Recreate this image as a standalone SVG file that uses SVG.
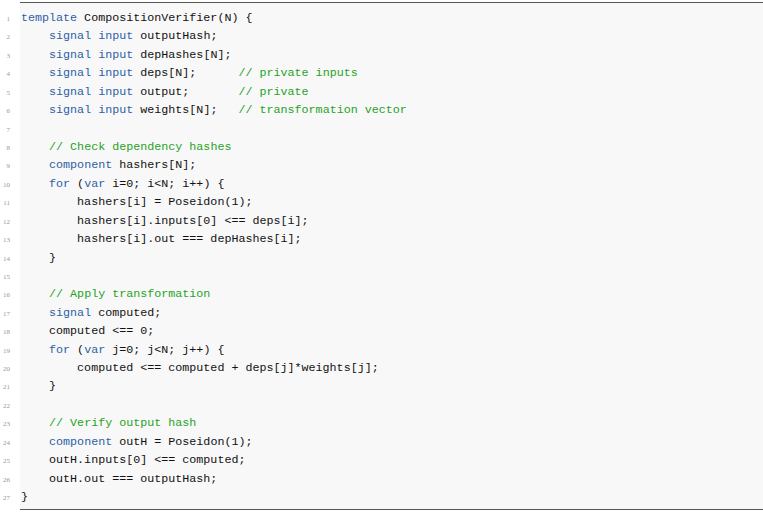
<svg xmlns="http://www.w3.org/2000/svg" width="763" height="516" viewBox="0 0 763 516">
<style>
.c{font-family:"Liberation Mono",monospace;font-size:11.7px;fill:#111;white-space:pre}
.k{fill:#2d5fa6}.g{fill:#1fa31f}
.n{font-family:"Liberation Serif",serif;font-size:7px;fill:#999;text-anchor:end}
</style>
<rect x="0" y="0" width="763" height="516" fill="#fff"/>
<rect x="20" y="3" width="743" height="506" fill="#f8f8f8"/>
<line x1="20" y1="2.5" x2="763" y2="2.5" stroke="#555" stroke-width="1"/>
<line x1="20" y1="509.5" x2="763" y2="509.5" stroke="#555" stroke-width="1"/>
<g id="numbers">
<text class="n" x="10" y="21">1</text><text class="n" x="10" y="39.4">2</text><text class="n" x="10" y="57.8">3</text><text class="n" x="10" y="76.3">4</text><text class="n" x="10" y="94.7">5</text><text class="n" x="10" y="113.1">6</text><text class="n" x="10" y="131.5">7</text><text class="n" x="10" y="149.9">8</text><text class="n" x="10" y="168.4">9</text><text class="n" x="10" y="186.8">10</text><text class="n" x="10" y="205.2">11</text><text class="n" x="10" y="223.6">12</text><text class="n" x="10" y="242">13</text><text class="n" x="10" y="260.5">14</text><text class="n" x="10" y="278.9">15</text><text class="n" x="10" y="297.3">16</text><text class="n" x="10" y="315.7">17</text><text class="n" x="10" y="334.1">18</text><text class="n" x="10" y="352.6">19</text><text class="n" x="10" y="371">20</text><text class="n" x="10" y="389.4">21</text><text class="n" x="10" y="407.8">22</text><text class="n" x="10" y="426.2">23</text><text class="n" x="10" y="444.7">24</text><text class="n" x="10" y="463.1">25</text><text class="n" x="10" y="481.5">26</text><text class="n" x="10" y="499.9">27</text>
</g>
<g id="code">
<text class="c" x="21" y="21"><tspan class="k">template</tspan> CompositionVerifier(N) {</text>
<text class="c" x="21" y="39.4">    <tspan class="k">signal</tspan> <tspan class="k">input</tspan> outputHash;</text>
<text class="c" x="21" y="57.8">    <tspan class="k">signal</tspan> <tspan class="k">input</tspan> depHashes[N];</text>
<text class="c" x="21" y="76.3">    <tspan class="k">signal</tspan> <tspan class="k">input</tspan> deps[N];      <tspan class="g">// private inputs</tspan></text>
<text class="c" x="21" y="94.7">    <tspan class="k">signal</tspan> <tspan class="k">input</tspan> output;       <tspan class="g">// private</tspan></text>
<text class="c" x="21" y="113.1">    <tspan class="k">signal</tspan> <tspan class="k">input</tspan> weights[N];   <tspan class="g">// transformation vector</tspan></text>
<text class="c" x="21" y="149.9">    <tspan class="g">// Check dependency hashes</tspan></text>
<text class="c" x="21" y="168.4">    <tspan class="k">component</tspan> hashers[N];</text>
<text class="c" x="21" y="186.8">    <tspan class="k">for</tspan> (<tspan class="k">var</tspan> i=0; i&lt;N; i++) {</text>
<text class="c" x="21" y="205.2">        hashers[i] = Poseidon(1);</text>
<text class="c" x="21" y="223.6">        hashers[i].inputs[0] &lt;== deps[i];</text>
<text class="c" x="21" y="242">        hashers[i].out === depHashes[i];</text>
<text class="c" x="21" y="260.5">    }</text>
<text class="c" x="21" y="297.3">    <tspan class="g">// Apply transformation</tspan></text>
<text class="c" x="21" y="315.7">    <tspan class="k">signal</tspan> computed;</text>
<text class="c" x="21" y="334.1">    computed &lt;== 0;</text>
<text class="c" x="21" y="352.6">    <tspan class="k">for</tspan> (<tspan class="k">var</tspan> j=0; j&lt;N; j++) {</text>
<text class="c" x="21" y="371">        computed &lt;== computed + deps[j]*weights[j];</text>
<text class="c" x="21" y="389.4">    }</text>
<text class="c" x="21" y="426.2">    <tspan class="g">// Verify output hash</tspan></text>
<text class="c" x="21" y="444.7">    <tspan class="k">component</tspan> outH = Poseidon(1);</text>
<text class="c" x="21" y="463.1">    outH.inputs[0] &lt;== computed;</text>
<text class="c" x="21" y="481.5">    outH.out === outputHash;</text>
<text class="c" x="21" y="499.9">}</text>
</g>
</svg>
